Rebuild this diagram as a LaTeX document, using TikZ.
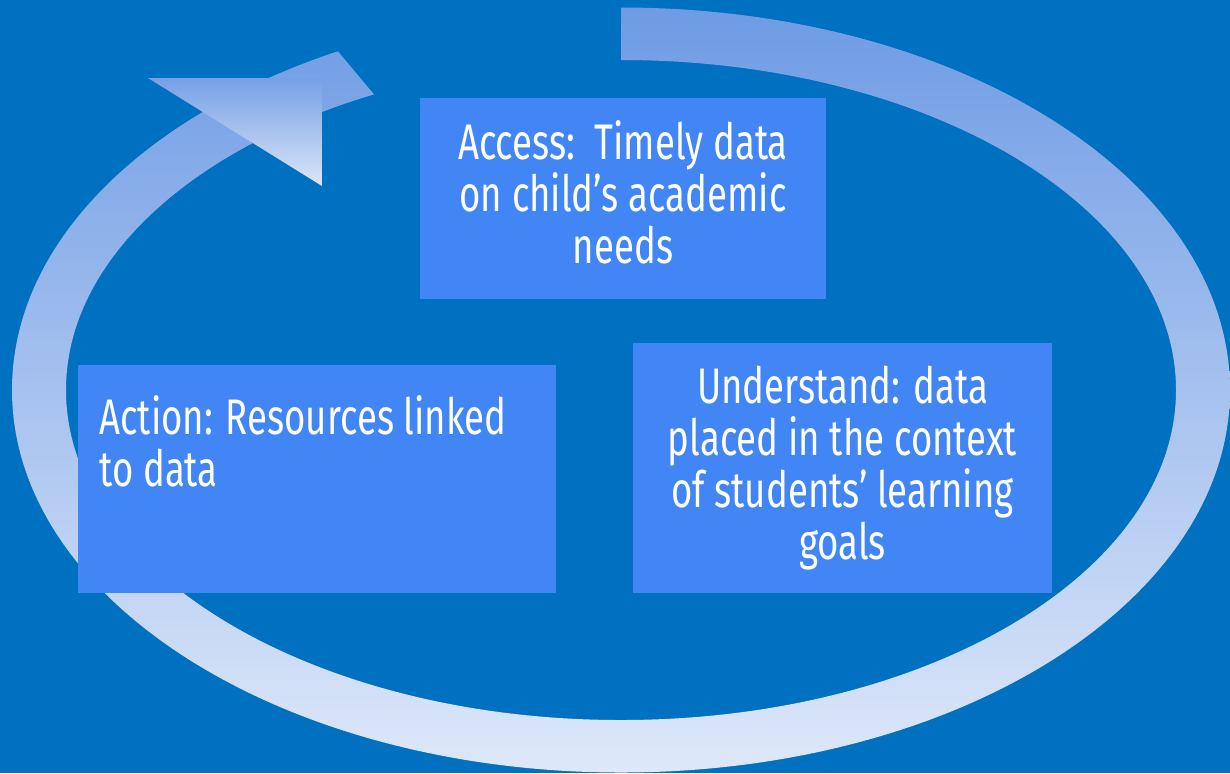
\documentclass[tikz,border=0pt]{standalone}
\usepackage{fontspec}
\setmainfont{Fira Sans}[FakeStretch=0.732]
\usetikzlibrary{positioning}

\definecolor{bgblue}{RGB}{0,112,192}
\definecolor{boxblue}{RGB}{66,133,244}
\definecolor{ringtop}{RGB}{110,155,228}
\definecolor{ringbot}{RGB}{222,232,249}
\definecolor{headtop}{RGB}{118,160,230}
\definecolor{headbot}{RGB}{220,230,248}

\tikzset{
  stage/.style={fill=boxblue,text=white,inner sep=0pt,font=\fontsize{25}{26}\selectfont},
}

\begin{document}
\begin{tikzpicture}[x=0.5pt,y=-0.5pt]

\useasboundingbox(0,0)rectangle(1230,773);
\fill[bgblue](0,0)rectangle(1230,773);

% the cycle arrow: an elliptic band, cut open at the top
\begin{scope}
\clip(621,390)--(621,-2000)--(3000,-2000)--(3000,3000)--(-3000,3000)--(-3000,-1911)--(-1302,-1911)--cycle;
\shade[top color=ringtop,bottom color=ringbot,even odd rule]
  (621,390)ellipse[x radius=609,y radius=382.5]
  (621,390)ellipse[x radius=555,y radius=330];
\end{scope}

% head of the arrow
\shade[top color=headtop,bottom color=headbot](148,78)--(322,78)--(322,186)--cycle;

\node[stage] (access) at (623,198.5)
  {\parbox[c][100.5pt][c]{203pt}{\centering Access:\ \ Timely data\\on child’s academic\\needs\par\vspace{6pt}}};
\node[stage,minimum width=209.5pt,minimum height=125pt,align=center] (understand) at (842.5,468)
  {Understand: data\\placed in the context\\of students’ learning\\goals};
\node[stage,anchor=north west,inner xsep=10.5pt,inner ysep=15pt] (action) at (78,365)
  {\parbox[c][84pt][t]{218pt}{\raggedright Action: Resources linked\\to data}};

\end{tikzpicture}
\end{document}
